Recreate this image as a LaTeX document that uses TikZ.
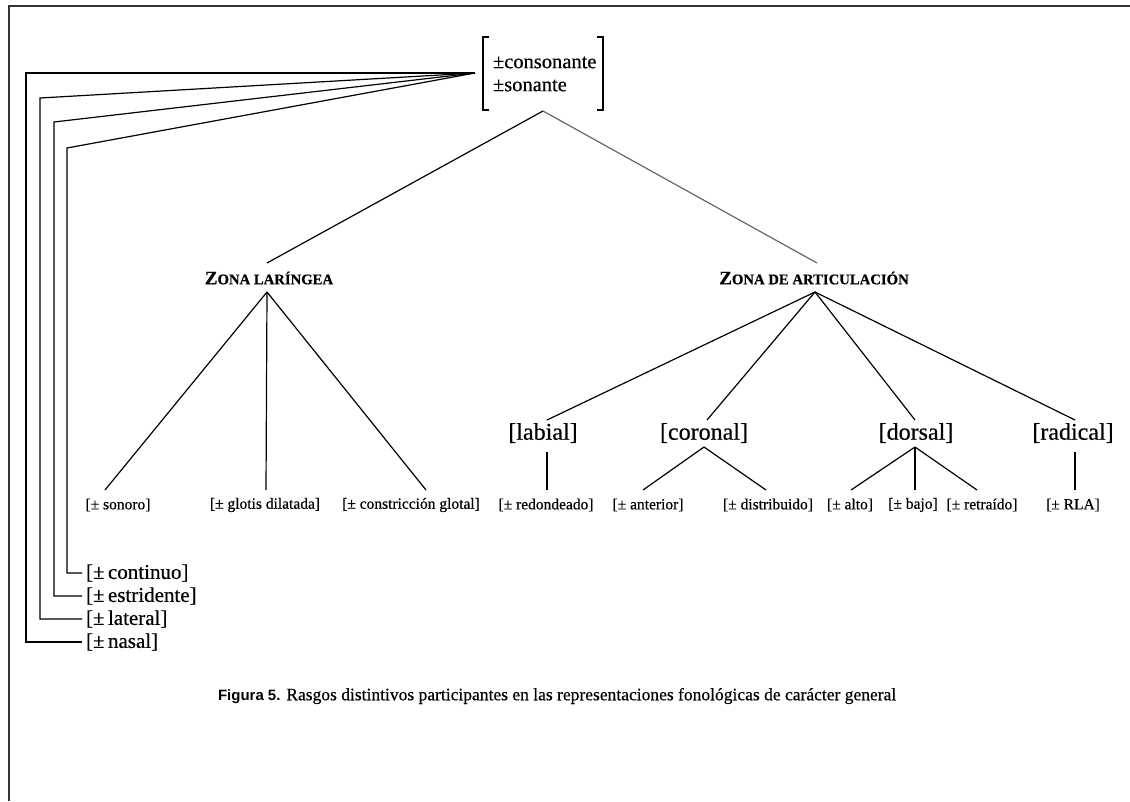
\documentclass[tikz,border=0pt]{standalone}
\usepackage{fontspec}
\setmainfont{Liberation Serif}[FakeBold=0.5]
\newfontfamily\capsans{Liberation Sans}
\newcommand{\zonecaps}[2]{\textbf{#1}{\fontsize{14.7}{16}\selectfont\bfseries #2}}
\begin{document}
\begin{tikzpicture}[x=1pt,y=-1pt,
  every node/.style={inner sep=0pt, outer sep=0pt},
  edge/.style={line width=1.2pt, black},
  softedge/.style={line width=1.2pt, black!60},
  brk/.style={line width=2.4pt, black, line cap=butt},
  rootlbl/.style={font=\fontsize{20.5}{24}\selectfont, align=left, anchor=west},
  zone/.style={font=\fontsize{19}{21}\selectfont},
  place/.style={font=\fontsize{24}{26}\selectfont},
  feat/.style={font=\fontsize{15.5}{17}\selectfont},
  side/.style={font=\fontsize{21}{23}\selectfont, anchor=west, outer sep=4pt},
  caption/.style={font=\fontsize{17.5}{19}\selectfont, anchor=west}]
\useasboundingbox (0,0) rectangle (1130,801);
% page frame
\draw[line width=1.5pt, black!80] (9,801) -- (9,6) -- (1130,6);

% root matrix
\node[rootlbl] (root) at (493,74) {±consonante\\[-1pt]±sonante};
\draw[brk] (489,37) -- (483,37) -- (483,110) -- (489,110);
\draw[brk] (597,37) -- (603,37) -- (603,110) -- (597,110);
\coordinate (rootL) at (475,73);
\coordinate (rootB) at (543,111);

% features hanging from the root
\coordinate (v1) at (26,73);
\coordinate (v2) at (40,98);
\coordinate (v3) at (54,122);
\coordinate (v4) at (67,148);
\node[side] (nas) at (82,642) {[±\,nasal]};
\node[side] (lat) at (82,619) {[±\,lateral]};
\node[side] (est) at (82,596) {[±\,estridente]};
\node[side] (con) at (82,573) {[±\,continuo]};
\draw[edge] (rootL) -- (v1) |- (nas.west);
\draw[edge] (rootL) -- (v2) |- (lat.west);
\draw[edge] (rootL) -- (v3) |- (est.west);
\draw[edge] (rootL) -- (v4) |- (con.west);

% laryngeal zone
\node[zone] (zl) at (269,278) {\zonecaps{Z}{ONA LARÍNGEA}};
\coordinate (zlT) at (267,263);
\coordinate (zlA) at (267,292);
\draw[edge] (rootB) -- (zlT);
\node[feat] (son) at (118,505) {[± sonoro]};
\node[feat] (glo) at (265,505) {[± glotis dilatada]};
\node[feat] (cgl) at (411,505) {[± constricción glotal]};
\coordinate (sonT) at (105,490);
\coordinate (gloT) at (266,490);
\coordinate (cglT) at (426,490);
\draw[edge] (zlA) -- (sonT);
\draw[edge] (zlA) -- (gloT);
\draw[edge] (zlA) -- (cglT);

% articulation zone
\node[zone] (za) at (814,278) {\zonecaps{Z}{ONA DE ARTICULACIÓN}};
\coordinate (zaT) at (817,263);
\coordinate (zaA) at (815,292);
\draw[softedge] (rootB) -- (zaT);

\node[place] (lab) at (543,433) {[labial]};
\node[place] (cor) at (704,433) {[coronal]};
\node[place] (dor) at (916,433) {[dorsal]};
\node[place] (rad) at (1073,433) {[radical]};
\coordinate (labT) at (547,420);
\coordinate (corT) at (707,420);
\coordinate (dorT) at (915,420);
\coordinate (radT) at (1075,420);
\draw[edge] (zaA) -- (labT);
\draw[edge] (zaA) -- (corT);
\draw[edge] (zaA) -- (dorT);
\draw[edge] (zaA) -- (radT);

\node[feat] (red) at (546,505) {[± redondeado]};
\node[feat] (ant) at (648,505) {[± anterior]};
\node[feat] (dis) at (768,505) {[± distribuido]};
\node[feat] (alt) at (850,505) {[± alto]};
\node[feat] (baj) at (913,505) {[± bajo]};
\node[feat] (ret) at (982,505) {[± retraído]};
\node[feat] (rla) at (1073,505) {[± RLA]};

\coordinate (labB) at (547,452);
\coordinate (corB) at (704,447);
\coordinate (dorB) at (915,447);
\coordinate (radB) at (1075,452);
\coordinate (redT) at (547,490);
\coordinate (antT) at (643,490);
\coordinate (disT) at (766,490);
\coordinate (altT) at (851,490);
\coordinate (bajT) at (915,490);
\coordinate (retT) at (977,490);
\coordinate (rlaT) at (1075,490);
\draw[edge] (labB) -- (redT);
\draw[edge] (corB) -- (antT);
\draw[edge] (corB) -- (disT);
\draw[edge] (dorB) -- (altT);
\draw[edge] (dorB) -- (bajT);
\draw[edge] (dorB) -- (retT);
\draw[edge] (radB) -- (rlaT);

% caption
\node[caption] (cap) at (218,696) {{\capsans\bfseries\fontsize{15}{17}\selectfont Figura 5.} Rasgos distintivos participantes en las representaciones fonológicas de carácter general};
\end{tikzpicture}
\end{document}
